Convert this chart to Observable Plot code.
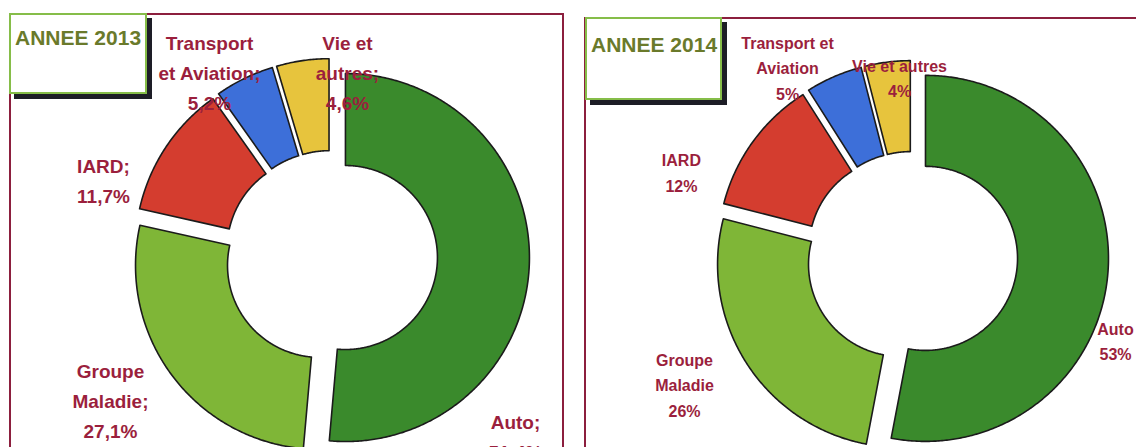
<!DOCTYPE html>
<html>
<head>
<meta charset="utf-8">
<script src="https://cdn.jsdelivr.net/npm/d3@7"></script>
<script src="https://cdn.jsdelivr.net/npm/@observablehq/plot@0.6"></script>
<style>
  html, body { margin: 0; padding: 0; background: #ffffff; }
  #stage { position: relative; width: 1136px; height: 447px; overflow: hidden; background: #ffffff;
           font-family: "Liberation Sans", Arial, sans-serif; }
  .panel { position: absolute; box-sizing: border-box; border: 2px solid #8c1f3e; background: transparent; }
  .chart { position: absolute; top: 0; }
  .title { position: absolute; box-sizing: border-box; background: #ffffff; border: 2px solid #86bd49;
           box-shadow: 5px 5px 0 #1d1d26; font-weight: bold; font-size: 21px; line-height: 21px;
           color: #6a7a2b; padding-left: 4px; white-space: nowrap; z-index: 5; }
</style>
</head>
<body>
<div id="stage">
  <div class="panel" style="left:9px; top:13px; width:555px; height:470px;"></div>
  <div class="panel" style="left:584px; top:17px; width:620px; height:470px;"></div>
  <div id="c2013" class="chart" style="left:0px;"></div>
  <div id="c2014" class="chart" style="left:568px;"></div>
  <div id="t2013" class="title" style="left:9px; top:13px; width:138px; height:81px; padding-top:12px;"></div>
  <div id="t2014" class="title" style="left:585px; top:17px; width:137px; height:83px; padding-top:15px;"></div>
</div>
<script>
// ---------- data ----------
const titles = ["ANNEE 2013", "ANNEE 2014"];
const categories = ["Auto", "Groupe Maladie", "IARD", "Transport et Aviation", "Vie et autres"];
const values2013 = [51.4, 27.1, 11.7, 5.2, 4.6];
const values2014 = [53, 26, 12, 5, 4];
const labels2013 = ["Auto;\n51,4%", "Groupe\nMaladie;\n27,1%", "IARD;\n11,7%", "Transport\net Aviation;\n5,2%", "Vie et\nautres;\n4,6%"];
const labels2014 = ["Auto\n53%", "Groupe\nMaladie\n26%", "IARD\n12%", "Transport et\nAviation\n5%", "Vie et autres\n4%"];
const colors = ["#3a8a2c", "#7fb637", "#d43d2f", "#3d6fd9", "#e7c43d"];

// ---------- layout (label anchor offsets, in units of the outer radius) ----------
const labelOffsets2013 = [[1.002, 0.964], [-1.199, 0.771], [-1.237, -0.424], [-0.661, -1.012], [0.089, -1.012]];
const labelOffsets2014 = [[1.112, 0.450], [-1.243, 0.689], [-1.260, -0.473], [-0.680, -1.044], [-0.068, -0.987]];

function slicePolygons(values, explode, inner) {
  const total = d3.sum(values);
  const pts = [];
  let acc = 0;
  values.forEach((v, i) => {
    const a0 = acc / total * 2 * Math.PI;
    acc += v;
    const a1 = acc / total * 2 * Math.PI;
    const mid = (a0 + a1) / 2;
    const ox = explode * Math.sin(mid), oy = -explode * Math.cos(mid);
    const n = Math.max(2, Math.ceil((a1 - a0) / (Math.PI / 360)));
    for (let k = 0; k <= n; k++) {
      const a = a0 + (a1 - a0) * k / n;
      pts.push({cat: categories[i], x: ox + Math.sin(a), y: oy - Math.cos(a)});
    }
    for (let k = n; k >= 0; k--) {
      const a = a0 + (a1 - a0) * k / n;
      pts.push({cat: categories[i], x: ox + inner * Math.sin(a), y: oy - inner * Math.cos(a)});
    }
  });
  return pts;
}

function donut({values, labels, offsets, cx, cy, R, explode, inner, fontSize, lineHeight}) {
  const W = 568, H = 447;
  const labelData = labels.map((t, i) => ({text: t, x: offsets[i][0], y: offsets[i][1]}));
  return Plot.plot({
    width: W, height: H,
    margin: 0,
    style: {background: "transparent", overflow: "visible"},
    x: {domain: [-cx / R, (W - cx) / R], range: [0, W], axis: null},
    y: {domain: [-cy / R, (H - cy) / R], range: [0, H], axis: null},
    color: {domain: categories, range: colors},
    marks: [
      Plot.line(slicePolygons(values, explode, inner), {
        x: "x", y: "y", z: "cat", fill: "cat",
        stroke: "#1b1b1b", strokeWidth: 1.6, curve: "linear-closed"
      }),
      Plot.text(labelData, {
        x: "x", y: "y", text: "text",
        fill: "#9b1f3d", fontSize, fontWeight: "bold",
        fontFamily: "Liberation Sans, Arial, sans-serif",
        lineHeight, textAnchor: "middle", lineAnchor: "middle"
      })
    ]
  });
}

document.getElementById("t2013").textContent = titles[0];
document.getElementById("t2014").textContent = titles[1];

document.getElementById("c2013").appendChild(donut({
  values: values2013, labels: labels2013, offsets: labelOffsets2013,
  cx: 330.6, cy: 256.4, R: 184, explode: 0.078, inner: 0.5, fontSize: 19, lineHeight: 1.58
}));
document.getElementById("c2014").appendChild(donut({
  values: values2014, labels: labels2014, offsets: labelOffsets2014,
  cx: 343.5, cy: 256.6, R: 183, explode: 0.074, inner: 0.503, fontSize: 16, lineHeight: 1.6
}));
</script>
</body>
</html>
